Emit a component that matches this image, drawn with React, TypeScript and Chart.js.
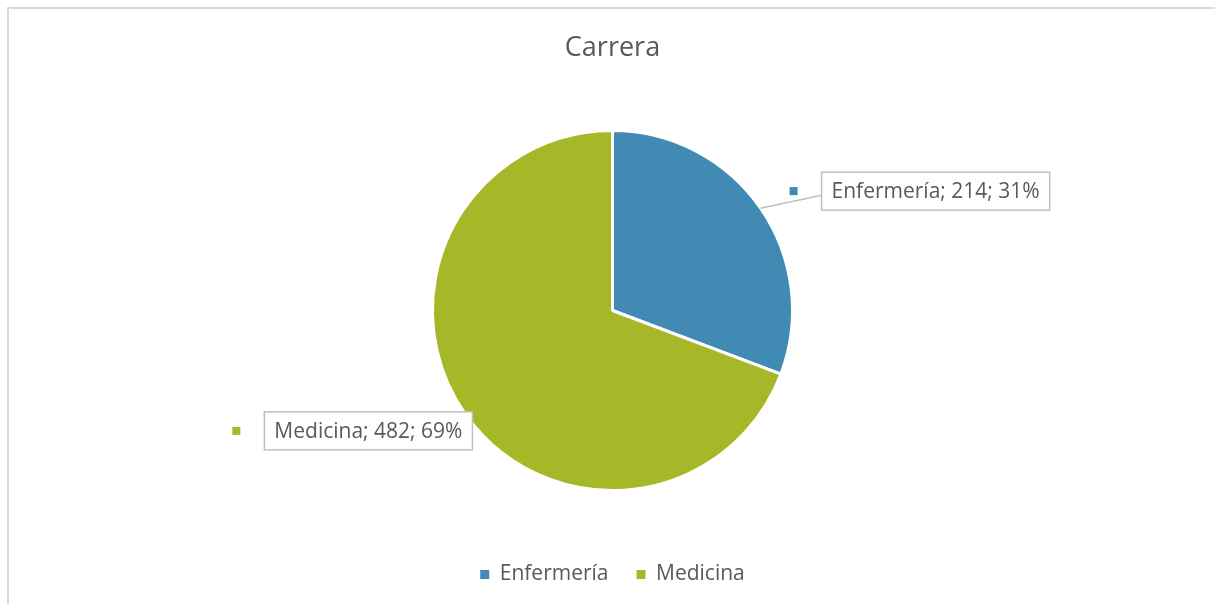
import { useEffect, useRef } from "react";
import { Chart, registerables } from "chart.js";
Chart.register(...registerables);

const chartTitle = "Carrera";
const categories = ["Enfermería", "Medicina"];
const values = [214, 482];
const colors = ["#418AB3", "#A6B727"];
// callout anchor offsets from the slice edge (near side of the box)
const labelOffsets = [
  [61, -17],
  [8, 18],
];

const FONT = "'Open Sans', Lato, sans-serif";
const TEXT_COLOR = "#595959";
const LABEL_SIZE = 21;

const calloutPlugin = {
  id: "callouts",
  afterDatasetsDraw(chart: any) {
    const ctx = chart.ctx as CanvasRenderingContext2D;
    const meta = chart.getDatasetMeta(0);
    const ds = chart.data.datasets[0].data as number[];
    const total = ds.reduce((a, b) => a + b, 0);
    ctx.save();
    ctx.font = `${LABEL_SIZE}px ${FONT}`;
    meta.data.forEach((arc: any, i: number) => {
      const { x, y, startAngle, endAngle, outerRadius } = arc.getProps(
        ["x", "y", "startAngle", "endAngle", "outerRadius"],
        true
      );
      const mid = (startAngle + endAngle) / 2;
      const ex = x + Math.cos(mid) * outerRadius;
      const ey = y + Math.sin(mid) * outerRadius;
      const text = `${chart.data.labels[i]}; ${ds[i]}; ${Math.round((ds[i] / total) * 100)}%`;
      const tw = ctx.measureText(text).width;
      const bw = tw + 20;
      const bh = 38;
      const rightSide = Math.cos(mid) > 0;
      const ax = ex + labelOffsets[i][0];
      const cy = ey + labelOffsets[i][1];
      const left = rightSide ? ax : ax - bw;
      const top = cy - bh / 2;
      const dist = rightSide ? left - ex : ex - (left + bw);
      if (dist > 20) {
        ctx.strokeStyle = "#bfbfbf";
        ctx.lineWidth = 1.5;
        ctx.beginPath();
        ctx.moveTo(ex, ey);
        ctx.lineTo(rightSide ? left : left + bw, cy + 4);
        ctx.stroke();
      }
      ctx.fillStyle = "#ffffff";
      ctx.fillRect(left, top, bw, bh);
      ctx.strokeStyle = "#bfbfbf";
      ctx.lineWidth = 1.5;
      ctx.strokeRect(left, top, bw, bh);
      ctx.fillStyle = TEXT_COLOR;
      ctx.textBaseline = "middle";
      ctx.textAlign = "left";
      ctx.fillText(text, left + 10, cy + 1);
      ctx.fillStyle = colors[i];
      ctx.fillRect(left - 32, cy - 4, 8, 8);
    });
    ctx.restore();
  },
};

export default function App() {
  const ref = useRef<HTMLCanvasElement | null>(null);
  useEffect(() => {
    document.body.style.margin = "0";
    document.body.style.overflow = "hidden";
    const defaultGen = (Chart as any).overrides.pie.plugins.legend.labels.generateLabels;
    const chart = new Chart(ref.current!, {
      type: "pie",
      data: {
        labels: categories,
        datasets: [
          {
            data: values,
            backgroundColor: colors,
            borderColor: "#ffffff",
            borderWidth: 3,
            radius: 180,
          } as any,
        ],
      },
      options: {
        responsive: false,
        animation: false,
        layout: { padding: { left: 10, right: 0, top: 0, bottom: 9 } },
        plugins: {
          title: {
            display: true,
            text: chartTitle,
            color: TEXT_COLOR,
            font: { family: FONT, size: 27, weight: "normal" as any },
            padding: { top: 32, bottom: 20.6 },
          },
          legend: {
            position: "bottom",
            labels: {
              boxWidth: 9,
              boxHeight: 9,
              padding: 28,
              color: TEXT_COLOR,
              font: { family: FONT, size: LABEL_SIZE },
              generateLabels: (c: any) =>
                defaultGen(c).map((l: any) => ({ ...l, strokeStyle: l.fillStyle, lineWidth: 0 })),
            },
          },
          tooltip: { enabled: false },
        },
      },
      plugins: [calloutPlugin],
    });
    return () => chart.destroy();
  }, []);
  return (
    <div style={{ position: "absolute", left: 0, top: 0, width: 1215, height: 604, overflow: "hidden", background: "#fff" }}>
      <div
        style={{
          position: "absolute",
          left: 7,
          top: 7,
          width: 1300,
          height: 700,
          borderTop: "2px solid #d9d9d9",
          borderLeft: "2px solid #d9d9d9",
        }}
      />
      <canvas ref={ref} width={1215} height={604} style={{ position: "absolute", left: 0, top: 0 }} />
    </div>
  );
}
